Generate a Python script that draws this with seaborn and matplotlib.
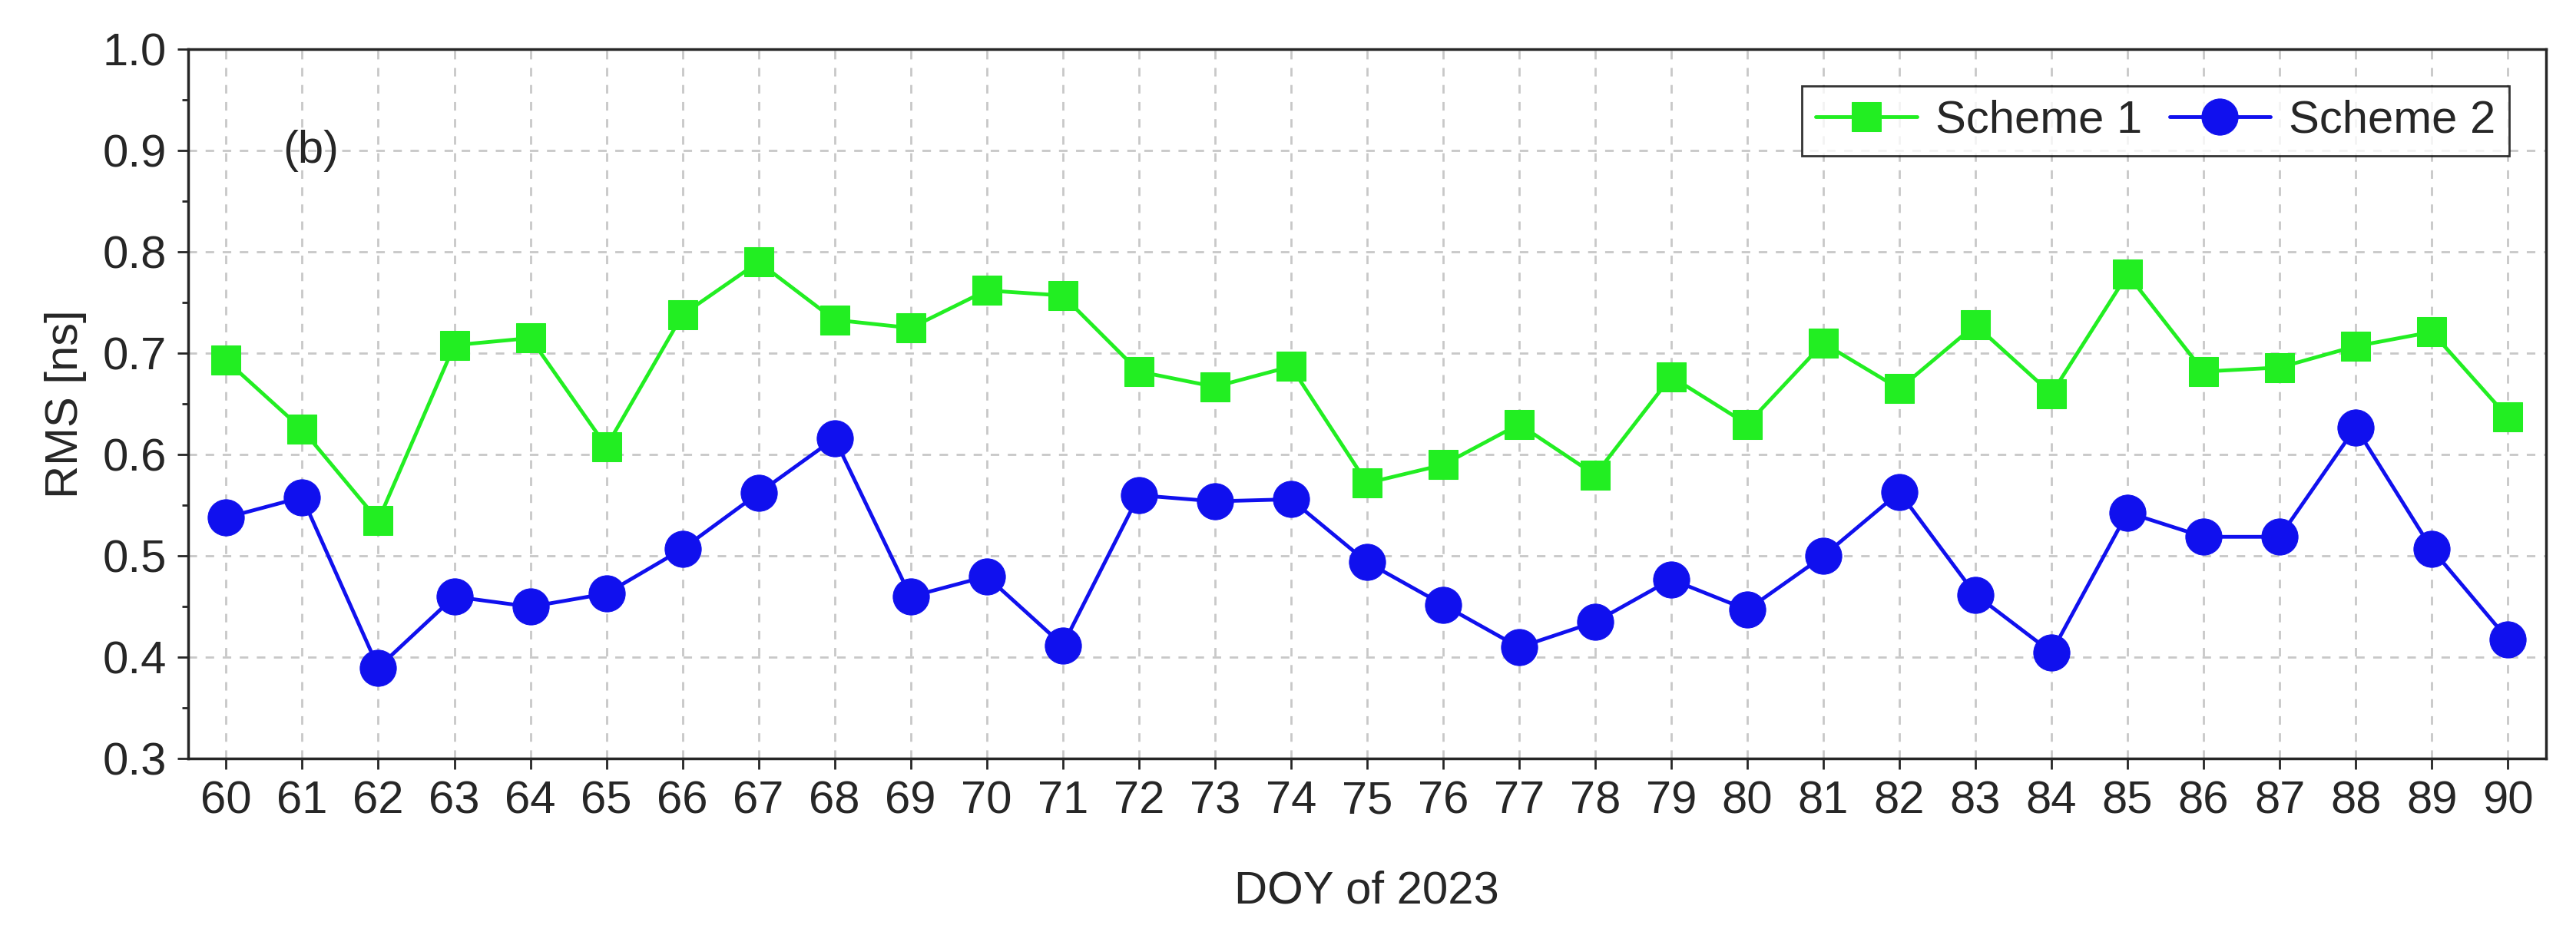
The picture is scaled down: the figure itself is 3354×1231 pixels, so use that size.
import numpy as np
import pandas as pd
import matplotlib
matplotlib.use("Agg")
import matplotlib.pyplot as plt
import seaborn as sns
from matplotlib.ticker import MultipleLocator

doy = list(range(60, 91))
scheme1 = [0.693, 0.625, 0.535, 0.708, 0.715, 0.608, 0.738, 0.790, 0.733, 0.725,
           0.762, 0.757, 0.682, 0.667, 0.687, 0.572, 0.590, 0.630, 0.580, 0.677,
           0.630, 0.710, 0.665, 0.728, 0.660, 0.778, 0.682, 0.686, 0.707, 0.721, 0.637]
scheme2 = [0.538, 0.558, 0.390, 0.460, 0.450, 0.463, 0.507, 0.562, 0.616, 0.460,
           0.480, 0.412, 0.560, 0.554, 0.556, 0.494, 0.452, 0.410, 0.435, 0.477,
           0.447, 0.500, 0.563, 0.462, 0.405, 0.543, 0.519, 0.519, 0.627, 0.507, 0.418]

df = pd.DataFrame({"doy": doy, "Scheme 1": scheme1, "Scheme 2": scheme2})

sns.set_style("ticks")
plt.rcParams['font.family'] = ['Liberation Sans', 'DejaVu Sans']

fig = plt.figure(figsize=(33.55, 12.31), dpi=100)
ax = fig.add_axes([0.073, 0.197, 0.915, 0.751])

sns.lineplot(data=df, x="doy", y="Scheme 1", ax=ax, color="#22ee22", lw=3.5,
             marker="s", markersize=28, markeredgecolor="#22ee22", label="Scheme 1")
sns.lineplot(data=df, x="doy", y="Scheme 2", ax=ax, color="#1010ee", lw=3.5,
             marker="o", markersize=34, markeredgecolor="#1010ee", label="Scheme 2")

fs = 43
ax.set_xlim(59.5, 90.5)
ax.set_ylim(0.3, 1.0)
ax.set_xticks(doy)
ax.yaxis.set_major_locator(MultipleLocator(0.1))
ax.yaxis.set_minor_locator(MultipleLocator(0.05))
ax.grid(True, which="major", ls=(0, (4, 4)), color="#c8c8c8", lw=2)
ax.tick_params(which="major", labelsize=fs, length=10, width=2, direction="out", pad=10)
ax.tick_params(which="minor", length=6, width=2)
for s in ax.spines.values():
    s.set_linewidth(2.5)
ax.set_xlabel("DOY of 2023", fontsize=fs, labelpad=45)
ax.set_ylabel("RMS [ns]", fontsize=fs, labelpad=15)
ax.text(60.75, 0.9, "(b)", fontsize=fs, va="center")

leg = ax.legend(loc="upper right", ncol=2, fontsize=fs, frameon=True, fancybox=False,
                edgecolor="black", handlelength=2.2, columnspacing=0.6,
                borderaxespad=0.8, handletextpad=0.4, borderpad=0.3)
leg.get_frame().set_linewidth(2)

fig.savefig("out.png", dpi=100)
